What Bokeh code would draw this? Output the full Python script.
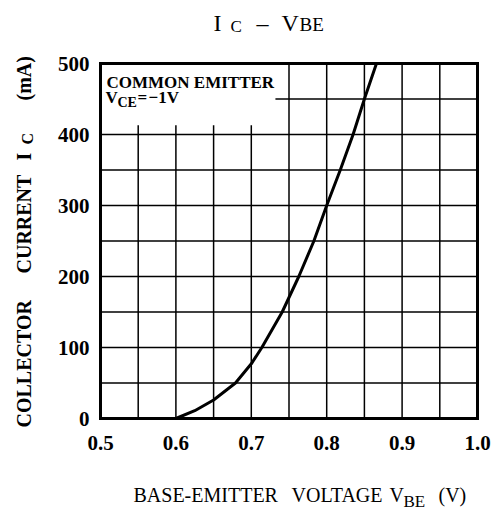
import numpy as np
from bokeh.plotting import figure
from bokeh.models import Label, FixedTicker, PrintfTickFormatter
from bokeh.embed import file_html
from bokeh.resources import INLINE

# Data
vbe = [0.600, 0.625, 0.650, 0.679, 0.700, 0.714, 0.741, 0.763, 0.783, 0.800, 0.818, 0.835, 0.850, 0.866]
ic = [0, 11, 26, 50, 77, 100, 150, 200, 250, 300, 350, 400, 450, 500]

x_ticks = [0.5, 0.6, 0.7, 0.8, 0.9, 1.0]
y_ticks = [0, 100, 200, 300, 400, 500]
x_grid = [0.55, 0.6, 0.65, 0.7, 0.75, 0.8, 0.85, 0.9, 0.95]
y_grid = [50, 100, 150, 200, 250, 300, 350, 400, 450]
X0, X1, Y0, Y1 = 0.5, 1.0, 0, 500

SERIF = "Liberation Serif"

# layout (pixels): canvas size and where the plot box sits in it
W, H = 495, 512
PL, PR, PT, PB = 100, 477, 63, 418
sx = (X1 - X0) / (PR - PL)
sy = (Y1 - Y0) / (PB - PT)
xr = (X0 - PL * sx, X1 + (W - PR) * sx)
yr = (Y0 - (H - PB) * sy, Y1 + PT * sy)

p = figure(width=W, height=H, x_range=xr, y_range=yr,
           output_backend="svg", toolbar_location=None,
           min_border_left=0, min_border_right=0, min_border_top=0, min_border_bottom=0)
p.background_fill_color = "white"
p.border_fill_color = "white"
p.outline_line_color = None
p.xgrid.visible = False
p.ygrid.visible = False

for ax in (p.xaxis[0], p.yaxis[0]):
    ax.axis_line_color = None
    ax.major_tick_line_color = None
    ax.minor_tick_line_color = None
    ax.major_tick_out = 0
    ax.major_tick_in = 0
    ax.minor_tick_out = 0
    ax.major_label_text_font = SERIF
    ax.major_label_text_font_style = "bold"
    ax.major_label_text_font_size = "21px"
    ax.major_label_text_color = "black"
p.xaxis.fixed_location = Y0
p.yaxis.fixed_location = X0
p.xaxis.bounds = (X0, X1)
p.yaxis.bounds = (Y0, Y1)
p.xaxis.ticker = FixedTicker(ticks=x_ticks)
p.yaxis.ticker = FixedTicker(ticks=y_ticks)
p.xaxis.formatter = PrintfTickFormatter(format="%.1f")
p.xaxis.major_label_standoff = 17
p.yaxis.major_label_standoff = 11

# grid
p.segment(x0=x_grid, x1=x_grid, y0=[Y0] * len(x_grid), y1=[Y1] * len(x_grid),
          line_color="black", line_width=1.5)
p.segment(x0=[X0] * len(y_grid), x1=[X1] * len(y_grid), y0=y_grid, y1=y_grid,
          line_color="black", line_width=1.5)

# white box behind legend text
p.quad(left=[X0], right=[0.732], bottom=[413], top=[Y1], fill_color="white", line_color=None)

p.line(vbe, ic, line_color="black", line_width=3)

# plot box outline
p.quad(left=[X0], right=[X1], bottom=[Y0], top=[Y1], fill_color=None,
       line_color="black", line_width=3, line_join="miter")

BL = 6  # baseline correction (px)


def lab(text, ix, iy, size, bold=False, angle=0.0):
    if angle:
        ix = ix - BL
    else:
        iy = iy - BL
    p.add_layout(Label(x=X0 + (ix - PL) * sx, y=Y0 + (PB - iy) * sy, text=text,
                       text_font=SERIF, text_font_size=f"{size}px",
                       text_font_style="bold" if bold else "normal",
                       text_color="black", text_align="left", text_baseline="alphabetic",
                       angle=angle))

# title
lab("I", 213, 28, 24)
lab("C", 230, 32, 17)
lab("\u2013", 256, 28, 24)
lab("V", 281, 28, 24)
lab("BE", 299, 30, 19)

# legend
lab("COMMON  EMITTER", 106, 88, 17, bold=True)
lab("V", 105, 103, 17, bold=True)
lab("CE", 117, 108, 14, bold=True)
lab("=", 137, 103, 17, bold=True)
lab("\u22121V", 148, 103, 17, bold=True)

# x axis label
lab("BASE-EMITTER", 133, 500, 20)
lab("VOLTAGE", 291, 500, 20)
lab("V", 389, 500, 20)
lab("BE", 403, 507, 17)
lab("(V)", 438, 500, 20)

# y axis label (rotated)
r = np.pi / 2
lab("COLLECTOR", 29, 427, 20, bold=True, angle=r)
lab("CURRENT", 29, 273, 20, bold=True, angle=r)
lab("I", 29, 160, 20, bold=True, angle=r)
lab("C", 33, 144, 16, bold=True, angle=r)
lab("(mA)", 29, 100, 20, bold=True, angle=r)

open("out.html", "w").write(file_html(p, INLINE))
